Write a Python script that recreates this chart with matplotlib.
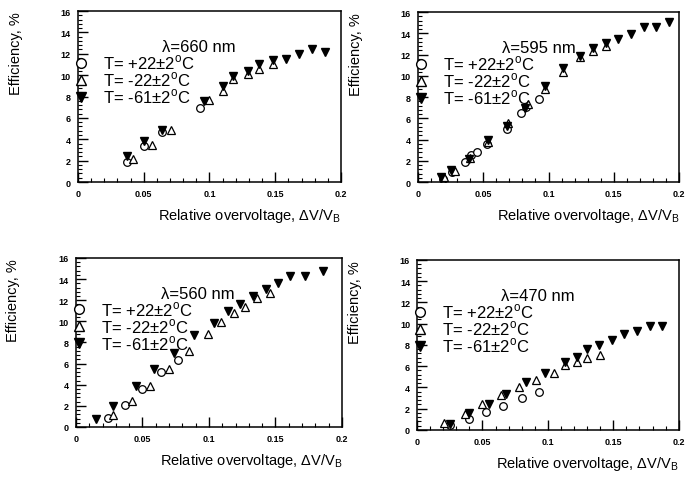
import matplotlib
matplotlib.use("Agg")
import matplotlib.pyplot as plt
from matplotlib.ticker import MultipleLocator, FuncFormatter
from matplotlib.lines import Line2D

plt.rcParams["font.family"] = ["Liberation Sans", "DejaVu Sans"]

# ---- data (x = dV/V_B, y = efficiency %) ----
wl_labels = ["λ=660 nm", "λ=595 nm", "λ=560 nm", "λ=470 nm"]

# 660 nm
p660_c_x = [0.037, 0.050, 0.064, 0.093]
p660_c_y = [1.85, 3.4, 4.65, 6.9]
p660_u_x = [0.042, 0.056, 0.071, 0.100, 0.110, 0.118, 0.129, 0.138, 0.148]
p660_u_y = [2.2, 3.5, 4.9, 7.7, 8.5, 9.6, 10.1, 10.6, 11.0]
p660_d_x = [0.037, 0.050, 0.064, 0.096, 0.110, 0.118, 0.129, 0.138, 0.148,
            0.158, 0.168, 0.178, 0.188]
p660_d_y = [2.4, 3.85, 4.85, 7.6, 9.0, 9.9, 10.4, 11.0, 11.4,
            11.5, 12.0, 12.4, 12.2]

# 595 nm
p595_c_x = [0.019, 0.026, 0.036, 0.041, 0.045, 0.053, 0.068, 0.079, 0.083, 0.093]
p595_c_y = [0.3, 0.9, 1.9, 2.5, 2.8, 3.6, 5.0, 6.5, 7.1, 7.8]
p595_u_x = [0.020, 0.028, 0.040, 0.054, 0.069, 0.084, 0.097, 0.111, 0.124,
            0.134, 0.144]
p595_u_y = [0.5, 1.0, 2.3, 3.8, 5.6, 7.3, 8.8, 10.4, 11.8, 12.3, 12.8]
p595_d_x = [0.018, 0.025, 0.039, 0.054, 0.068, 0.082, 0.097, 0.111, 0.124,
            0.134, 0.144, 0.153, 0.163, 0.173, 0.182, 0.192]
p595_d_y = [0.5, 1.1, 2.2, 4.0, 5.3, 7.0, 9.0, 10.7, 11.9,
            12.6, 13.1, 13.5, 13.9, 14.6, 14.6, 15.1]

# 560 nm
p560_c_x = [0.024, 0.037, 0.050, 0.064, 0.077]
p560_c_y = [0.85, 2.05, 3.6, 5.2, 6.3]
p560_u_x = [0.028, 0.042, 0.056, 0.070, 0.085, 0.099, 0.109, 0.119, 0.127,
            0.136, 0.146]
p560_u_y = [1.1, 2.5, 3.9, 5.5, 7.2, 8.8, 9.9, 10.8, 11.4, 12.2, 12.7]
p560_d_x = [0.015, 0.028, 0.045, 0.059, 0.074, 0.089, 0.104, 0.114, 0.123,
            0.133, 0.143, 0.152, 0.161, 0.172, 0.186]
p560_d_y = [0.75, 2.0, 3.85, 5.5, 7.0, 8.7, 9.8, 11.0, 11.6,
            12.4, 13.1, 13.6, 14.3, 14.3, 14.8]

# 470 nm
p470_c_x = [0.025, 0.040, 0.053, 0.066, 0.080, 0.093]
p470_c_y = [0.5, 1.0, 1.65, 2.3, 3.0, 3.6]
p470_u_x = [0.021, 0.037, 0.050, 0.064, 0.078, 0.091, 0.105, 0.113, 0.122,
            0.130, 0.140]
p470_u_y = [0.7, 1.5, 2.4, 3.3, 4.0, 4.7, 5.4, 6.1, 6.4, 6.8, 7.1]
p470_d_x = [0.025, 0.040, 0.055, 0.068, 0.083, 0.098, 0.113, 0.122, 0.130,
            0.139, 0.149, 0.158, 0.168, 0.178, 0.187]
p470_d_y = [0.6, 1.6, 2.45, 3.4, 4.5, 5.4, 6.4, 6.9, 7.6,
            8.0, 8.5, 9.0, 9.3, 9.75, 9.75]

series_labels = ["T= +22±2$^\\mathregular{o}$C",
                 "T= -22±2$^\\mathregular{o}$C",
                 "T= -61±2$^\\mathregular{o}$C"]

panels = [
    (p660_c_x, p660_c_y, p660_u_x, p660_u_y, p660_d_x, p660_d_y),
    (p595_c_x, p595_c_y, p595_u_x, p595_u_y, p595_d_x, p595_d_y),
    (p560_c_x, p560_c_y, p560_u_x, p560_u_y, p560_d_x, p560_d_y),
    (p470_c_x, p470_c_y, p470_u_x, p470_u_y, p470_d_x, p470_d_y),
]

rects = [
    [0.1135, 0.6195, 0.3828, 0.3555],
    [0.6084, 0.6195, 0.3800, 0.3534],
    [0.1106, 0.1102, 0.3872, 0.3514],
    [0.6070, 0.1040, 0.3810, 0.3534],
]

fig = plt.figure(figsize=(6.87, 4.81), dpi=100)

ms = 5.5
for rect, data, wl in zip(rects, panels, wl_labels):
    cx, cy, ux, uy, dx, dy = data
    ax = fig.add_axes(rect)
    ax.plot(cx, cy, "o", ms=ms, mfc="white", mec="black", mew=0.9, ls="none")
    ax.plot(ux, uy, "^", ms=ms, mfc="white", mec="black", mew=0.9, ls="none")
    ax.plot(dx, dy, "v", ms=ms, mfc="black", mec="black", ls="none")

    ax.set_xlim(0, 0.2)
    ax.set_ylim(0, 16)
    ax.xaxis.set_major_locator(MultipleLocator(0.05))
    ax.xaxis.set_minor_locator(MultipleLocator(0.01))
    ax.yaxis.set_major_locator(MultipleLocator(2))
    ax.yaxis.set_minor_locator(MultipleLocator(0.4))
    ax.xaxis.set_major_formatter(FuncFormatter(lambda v, p: f"{v:g}"))
    ax.tick_params(which="both", direction="in", top=False, right=False)
    ax.tick_params(which="major", length=7, width=1.0, labelsize=6.5, pad=5)
    ax.tick_params(which="minor", length=3, width=0.8)
    for lab in ax.get_xticklabels() + ax.get_yticklabels():
        lab.set_fontweight("bold")
    for sp in ax.spines.values():
        sp.set_linewidth(1.1)

    ax.set_xlabel("Relative overvoltage, ΔV/V$_\\mathregular{B}$", fontsize=10.5,
                  ha="right", x=1.0)
    ax.xaxis.set_label_coords(1.0, -0.14)
    ax.set_ylabel("Efficiency, %", fontsize=10.5, ha="right", y=1.0)
    ax.yaxis.set_label_coords(-0.21, 1.0)

    ax.text(0.32, 0.765, wl, transform=ax.transAxes, fontsize=12,
            va="baseline")
    handles = [
        Line2D([], [], marker="o", ms=7, mfc="white", mec="black", ls="none"),
        Line2D([], [], marker="^", ms=7, mfc="white", mec="black", ls="none"),
        Line2D([], [], marker="v", ms=7, mfc="black", mec="black", ls="none"),
    ]
    ax.legend(handles, series_labels, loc="upper left",
              bbox_to_anchor=(-0.02, 0.755), frameon=False, fontsize=12,
              handletextpad=0.8, handlelength=1.0, labelspacing=-0.1,
              borderaxespad=0.0, borderpad=0.0)

fig.savefig("out.png", dpi=100)
